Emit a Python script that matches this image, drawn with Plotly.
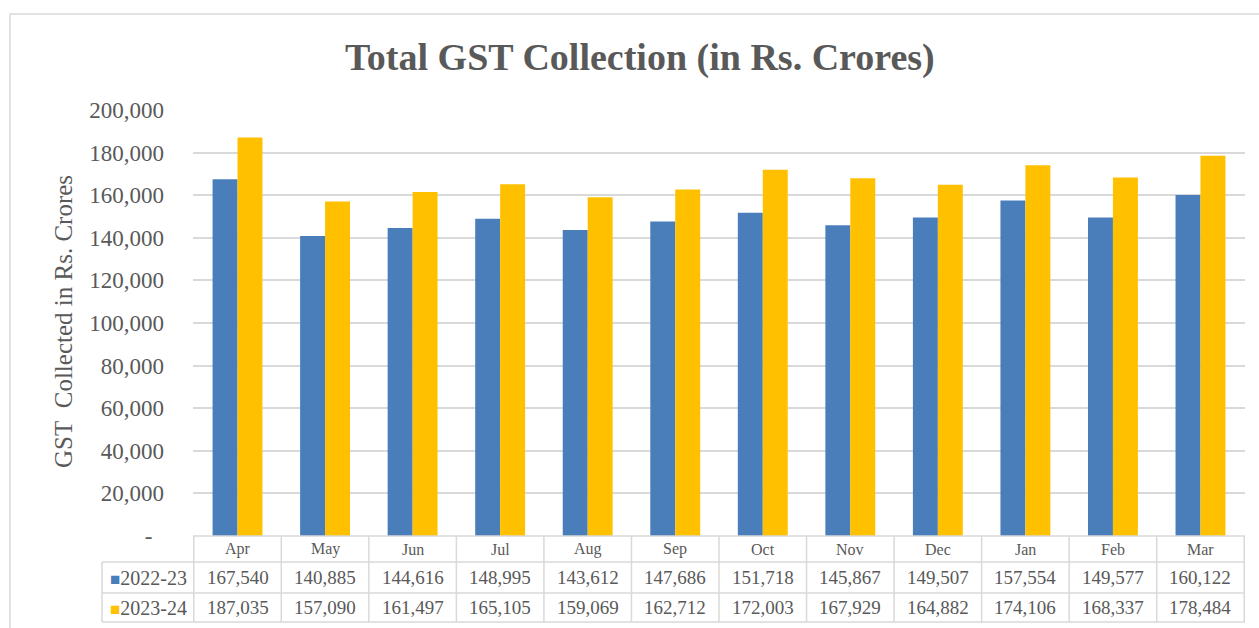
import plotly.graph_objects as go

months = ["Apr", "May", "Jun", "Jul", "Aug", "Sep", "Oct", "Nov", "Dec", "Jan", "Feb", "Mar"]
series_names = ["2022-23", "2023-24"]
fy2022_23 = [167540, 140885, 144616, 148995, 143612, 147686, 151718, 145867, 149507, 157554, 149577, 160122]
fy2023_24 = [187035, 157090, 161497, 165105, 159069, 162712, 172003, 167929, 164882, 174106, 168337, 178484]
y_tick_vals = [0, 20000, 40000, 60000, 80000, 100000, 120000, 140000, 160000, 180000, 200000]
y_tick_text = ["-\u00a0\u00a0", "20,000", "40,000", "60,000", "80,000", "100,000", "120,000",
               "140,000", "160,000", "180,000", "200,000"]
colors = ["#4A7EBB", "#FFC000"]

FONT = "Liberation Serif"
GRAY = "#595959"
LINE = "#D9D9D9"

fig = go.Figure()
for name, vals, col in zip(series_names, [fy2022_23, fy2023_24], colors):
    fig.add_trace(go.Bar(x=months, y=vals, name=name, marker=dict(color=col, line=dict(width=0))))

W, H = 1259, 628
ml, mr, mt, mb = 193, 14, 110, 92
pw = W - ml - mr
ph = H - mt - mb

def py(px):  # pixel y -> paper y
    return (H - mb - px) / ph

def pxx(px):  # pixel x -> paper x
    return (px - ml) / pw

row_lines = [py(536), py(562), py(593), py(622)]
row_centers = [(row_lines[i] + row_lines[i + 1]) / 2 for i in range(3)]
left_x = pxx(102)

shapes = []
shapes.append(dict(type="line", xref="paper", yref="paper", x0=0, x1=1, y0=row_lines[0], y1=row_lines[0],
                   line=dict(color=LINE, width=1.5)))
for yl in row_lines[1:]:
    shapes.append(dict(type="line", xref="paper", yref="paper", x0=left_x, x1=1, y0=yl, y1=yl,
                       line=dict(color=LINE, width=1.5)))
for i in range(len(months) + 1):
    shapes.append(dict(type="line", xref="x", yref="paper", x0=i - 0.5, x1=i - 0.5,
                       y0=row_lines[3], y1=row_lines[0], line=dict(color=LINE, width=1.5)))
shapes.append(dict(type="line", xref="paper", yref="paper", x0=left_x, x1=left_x,
                   y0=row_lines[3], y1=row_lines[1], line=dict(color=LINE, width=1.5)))
shapes.append(dict(type="rect", xref="paper", yref="paper", x0=pxx(10), x1=pxx(1264),
                   y0=py(640), y1=py(14), line=dict(color=LINE, width=1.5), layer="below"))

annotations = []
for m in months:
    annotations.append(dict(x=m, y=row_centers[0], xref="x", yref="paper", text=m, showarrow=False,
                            font=dict(family=FONT, size=16, color=GRAY), xanchor="center", yanchor="middle"))
for r, (name, vals, col) in enumerate(zip(series_names, [fy2022_23, fy2023_24], colors)):
    yc = row_centers[r + 1]
    annotations.append(dict(x=pxx(189), y=yc, xref="paper", yref="paper",
                            text=f"<span style='color:{col}; font-size:17px'>■</span>{name}",
                            showarrow=False, xanchor="right", yanchor="middle",
                            font=dict(family=FONT, size=20, color=GRAY)))
    for m, v in zip(months, vals):
        annotations.append(dict(x=m, y=yc, xref="x", yref="paper", text=f"{v:,}", showarrow=False,
                                xanchor="center", yanchor="middle",
                                font=dict(family=FONT, size=19, color=GRAY)))
annotations.append(dict(x=pxx(63), y=py(322), xref="paper", yref="paper", text="GST\u00a0\u00a0Collected in Rs. Crores",
                        textangle=-90, showarrow=False, xanchor="center", yanchor="middle",
                        font=dict(family=FONT, size=25, color=GRAY)))
annotations.append(dict(x=pxx(640), y=py(57), xref="paper", yref="paper",
                        text="<b>Total GST Collection (in Rs. Crores)</b>", showarrow=False,
                        xanchor="center", yanchor="middle",
                        font=dict(family=FONT, size=38, color=GRAY)))

fig.update_layout(
    width=W, height=H,
    margin=dict(l=ml, r=mr, t=mt, b=mb),
    paper_bgcolor="white", plot_bgcolor="white",
    barmode="group", bargap=0.43, bargroupgap=0,
    showlegend=False,
    shapes=shapes, annotations=annotations,
    xaxis=dict(showticklabels=False, showgrid=False, zeroline=False, showline=False, ticks=""),
    yaxis=dict(range=[0, 200000], tickvals=y_tick_vals, ticktext=y_tick_text,
               showgrid=True, gridcolor=LINE, gridwidth=1.5, zeroline=False, showline=False,
               ticks="", ticklabelstandoff=28,
               tickfont=dict(family=FONT, size=23, color=GRAY)),
)

fig.write_html("out.html", config={"displayModeBar": False},
               post_script="document.documentElement.style.margin='0';document.body.style.margin='0';"
                           "document.body.style.overflow='hidden';document.documentElement.style.overflow='hidden';")
